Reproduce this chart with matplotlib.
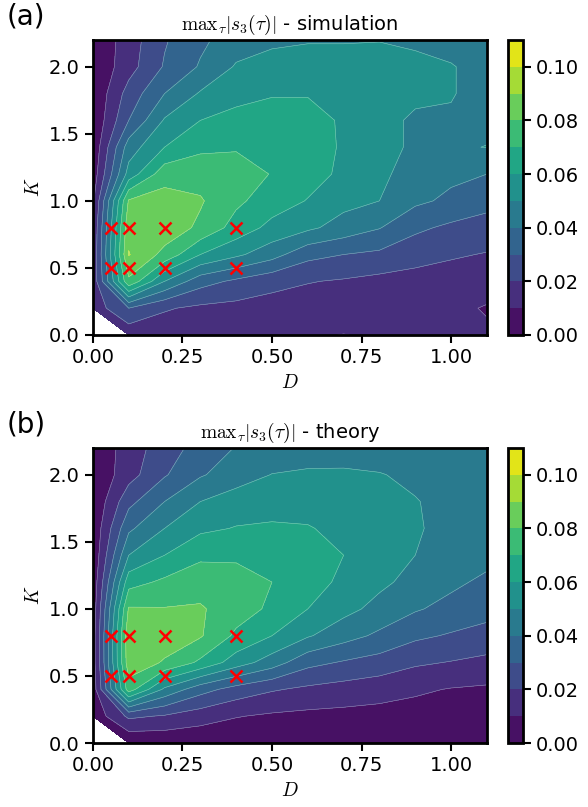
import numpy as np
import matplotlib
matplotlib.use("Agg")
import matplotlib.pyplot as plt

plt.rcParams['mathtext.fontset'] = 'cm'

# grid of noise strength D and coupling K
D = [0.0, 0.1, 0.2, 0.3, 0.4, 0.5, 0.6, 0.7, 0.8, 0.9, 1.0, 1.1]
K = [0.0, 0.2, 0.4, 0.6, 0.8, 1.0, 1.2, 1.4, 1.6, 1.8, 2.0, 2.2]

# max_tau |s3(tau)|, rows follow K, columns follow D
s3_sim = [
    [np.nan, .013, .014, .014, .013, .012, .011, .0098, .011, .012, .012, .012],
    [.014, .030, .021, .018, .017, .016, .015, .015, .014, .014, .013, .009],
    [.013, .078, .050, .034, .028, .023, .0205, .019, .017, .016, .016, .016],
    [.012, .0905, .077, .060, .052, .044, .033, .030, .028, .024, .021, .0195],
    [.011, .087, .086, .078, .066, .057, .052, .046, .0405, .032, .028, .025],
    [.008, .081, .084, .081, .072, .065, .0595, .053, .050, .042, .038, .034],
    [.004, .054, .076, .076, .075, .0695, .064, .058, .051, .048, .042, .040],
    [.002, .045, .060, .068, .069, .066, .064, .059, .053, .0485, .049, .0502],
    [.001, .030, .051, .060, .062, .063, .063, .059, .053, .0485, .049, .048],
    [.001, .024, .040, .051, .058, .0595, .0595, .057, .055, .052, .0505, .047],
    [.001, .016, .031, .041, .051, .054, .056, .056, .056, .053, .0505, .047],
    [.001, .015, .029, .038, .045, .048, .049, .049, .0495, .048, .047, .046],
]

s3_theory = [
    [np.nan, .001, .002, .002, .002, .002, .002, .002, .002, .002, .002, .002],
    [.003, .022, .019, .0145, .0105, .0085, .0075, .007, .0065, .006, .0055, .005],
    [.004, .075, .048, .034, .026, .021, .018, .016, .014, .0115, .0095, .0085],
    [.005, .086, .079, .068, .055, .045, .033, .029, .026, .0215, .0195, .0175],
    [.005, .087, .085, .081, .068, .060, .051, .044, .038, .032, .029, .026],
    [.004, .081, .0805, .081, .075, .068, .060, .053, .047, .041, .037, .034],
    [.003, .066, .072, .076, .075, .070, .064, .058, .052, .047, .042, .038],
    [.002, .050, .060, .068, .068, .068, .064, .060, .055, .050, .045, .043],
    [.002, .038, .050, .058, .0605, .061, .0605, .058, .055, .051, .047, .043],
    [.001, .027, .040, .050, .055, .057, .057, .055, .053, .0505, .047, .044],
    [.001, .016, .029, .039, .045, .0503, .0515, .0515, .0505, .048, .046, .044],
    [.001, .015, .025, .034, .0405, .043, .045, .0455, .045, .044, .043, .042],
]

# parameter sets of the example time series
D_marks = [0.05, 0.1, 0.2, 0.4, 0.05, 0.1, 0.2, 0.4]
K_marks = [0.5, 0.5, 0.5, 0.5, 0.8, 0.8, 0.8, 0.8]

levels = np.linspace(0, 0.11, 12)
cticks = [0.0, 0.02, 0.04, 0.06, 0.08, 0.10]

fig = plt.figure(figsize=(5.88, 8.07), dpi=100)

panels = [
    ("(a)", r"$\mathrm{max}_\tau|s_3(\tau)|$ - simulation", s3_sim, 0.5849),
    ("(b)", r"$\mathrm{max}_\tau|s_3(\tau)|$ - theory", s3_theory, 0.0793),
]

for tag, title, Z, y0 in panels:
    ax = fig.add_axes([0.158, y0, 0.670, 0.3656])
    cax = fig.add_axes([0.864, y0, 0.0255, 0.3656])
    Z = np.ma.masked_invalid(np.array(Z))
    cf = ax.contourf(D, K, Z, levels=levels, cmap='viridis')
    ax.contour(D, K, Z, levels=levels, colors='white', linewidths=0.4, alpha=0.45)
    ax.plot(D_marks, K_marks, 'x', color='red', ms=9, mew=1.8, ls='none')
    ax.set_xlim(0, 1.1)
    ax.set_ylim(0, 2.2)
    ax.set_xticks([0.0, 0.25, 0.5, 0.75, 1.0])
    ax.set_xticklabels(['0.00', '0.25', '0.50', '0.75', '1.00'])
    ax.set_yticks([0.0, 0.5, 1.0, 1.5, 2.0])
    ax.set_xlabel(r'$D$', fontsize=14)
    ax.set_ylabel(r'$K$', fontsize=14)
    ax.set_title(title, fontsize=14, pad=7)
    ax.tick_params(labelsize=14, width=1.5, length=6)
    for s in ax.spines.values():
        s.set_linewidth(2)
    cb = fig.colorbar(cf, cax=cax, ticks=cticks)
    cb.ax.set_yticklabels(['0.00', '0.02', '0.04', '0.06', '0.08', '0.10'])
    cb.ax.tick_params(labelsize=14, width=1.5, length=6)
    cb.outline.set_linewidth(2)
    fig.text(0.012, y0 + 0.3656 + 0.012, tag, fontsize=20, ha='left', va='bottom')

fig.savefig('out.png', dpi=100)
